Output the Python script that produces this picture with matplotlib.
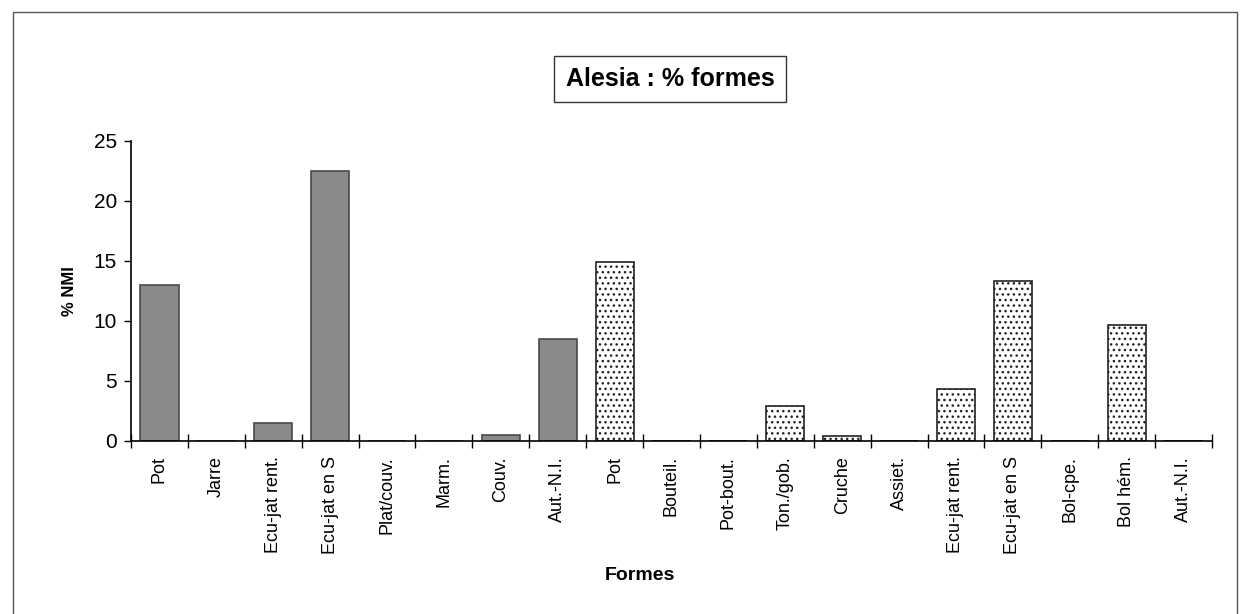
import matplotlib.pyplot as plt
import numpy as np
from matplotlib.patches import Rectangle

# Céramique commune sombre puis claire (NMI en %)
dark_labels = ["Pot", "Jarre", "Ecu-jat rent.", "Ecu-jat en S", "Plat/couv.",
               "Marm.", "Couv.", "Aut.-N.I."]
dark_values = [13.0, 0.0, 1.5, 22.5, 0.0, 0.0, 0.5, 8.5]

light_labels = ["Pot", "Bouteil.", "Pot-bout.", "Ton./gob.", "Cruche", "Assiet.",
                "Ecu-jat rent.", "Ecu-jat en S", "Bol-cpe.", "Bol hém.", "Aut.-N.I."]
light_values = [14.9, 0.0, 0.0, 2.9, 0.4, 0.0, 4.3, 13.3, 0.0, 9.7, 0.0]

y_ticks = [0, 5, 10, 15, 20, 25]

plt.rcParams["font.family"] = ["Liberation Sans", "DejaVu Sans"]
plt.rcParams["hatch.linewidth"] = 1.0

fig = plt.figure(figsize=(12.5, 6.14), dpi=100)
ax = fig.add_axes([0.1048, 0.2818, 0.8648, 0.4886])

labels = dark_labels + light_labels
x_dark = np.arange(len(dark_labels))
x_light = np.arange(len(light_labels)) + len(dark_labels)

ax.bar(x_dark, dark_values, width=0.67, color="#8a8a8a", edgecolor="#4a4a4a", linewidth=1.2)
ax.bar(x_light, light_values, width=0.67, color="white", edgecolor="#222222",
       linewidth=1.2, hatch="...")

ax.set_xlim(-0.5, len(labels) - 0.5)
ax.set_ylim(0, 25)
ax.set_yticks(y_ticks)
ax.tick_params(axis="y", direction="out", length=5, width=1, labelsize=15, pad=5)

# ticks between categories, labels centred under the bars
ax.set_xticks(np.arange(len(labels) + 1) - 0.5)
ax.set_xticklabels([])
ax.set_xticks(np.arange(len(labels)), minor=True)
ax.set_xticklabels(labels, minor=True, rotation=90, fontsize=13, va="top")
ax.tick_params(axis="x", which="major", direction="inout", length=10, width=1)
ax.tick_params(axis="x", which="minor", length=0, pad=11)

for side in ("top", "right"):
    ax.spines[side].set_visible(False)
ax.spines["left"].set_linewidth(1.2)
ax.spines["bottom"].set_linewidth(1.2)

ax.set_ylabel("% NMI", fontsize=12, fontweight="bold", labelpad=12)
fig.text(0.512, 0.063, "Formes", ha="center", va="center", fontsize=14, fontweight="bold")

fig.text(0.536, 0.871, "Alesia : % formes", ha="center", va="center", fontsize=18,
         fontweight="bold",
         bbox=dict(boxstyle="square,pad=0.45", facecolor="white", edgecolor="#333333", linewidth=1))

# frame around the whole chart
fig.patches.append(Rectangle((0.0104, -0.01), 0.979, 0.99, transform=fig.transFigure,
                             fill=False, edgecolor="#555555", linewidth=1))

fig.savefig("out.png", dpi=100)
